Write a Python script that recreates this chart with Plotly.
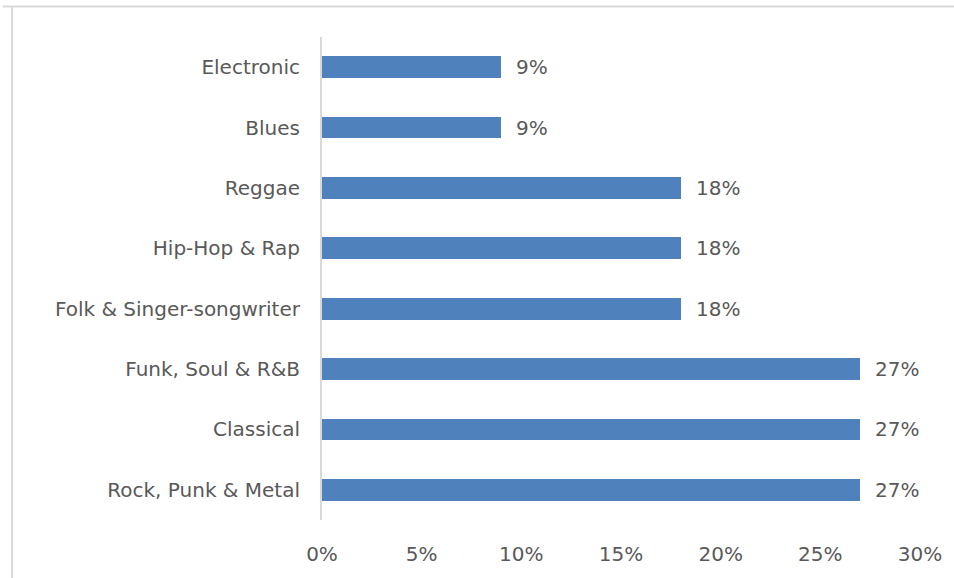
import plotly.graph_objects as go

# Share of listeners by genre (top to bottom as displayed)
genres = [
    "Electronic",
    "Blues",
    "Reggae",
    "Hip-Hop & Rap",
    "Folk & Singer-songwriter",
    "Funk, Soul & R&B",
    "Classical",
    "Rock, Punk & Metal",
]
shares = [9, 9, 18, 18, 18, 27, 27, 27]
tick_vals = [0, 5, 10, 15, 20, 25, 30]
tick_text = ["0%", "5%", "10%", "15%", "20%", "25%", "30%"]

text_color = "#595959"
font_family = "DejaVu Sans, sans-serif"
font_size = 20

fig = go.Figure(
    go.Bar(
        x=shares,
        y=genres,
        orientation="h",
        width=0.36,
        marker=dict(color="#4F81BD", line=dict(width=0)),
        hoverinfo="skip",
    )
)

# value labels beside each bar
for g, v in zip(genres, shares):
    fig.add_annotation(
        x=v, y=g, text=f"{v}%", showarrow=False,
        xanchor="left", xshift=13,
        font=dict(size=font_size, color=text_color, family=font_family),
    )

plot_w = 954 - 322 - 29
plot_h = 484

# chart frame (top and left edges)
fig.add_shape(type="line", xref="paper", yref="paper",
              x0=-322 / plot_w, x1=1.1, y0=1 + 30.5 / plot_h, y1=1 + 30.5 / plot_h,
              line=dict(color="#d9d9d9", width=2))
fig.add_shape(type="line", xref="paper", yref="paper",
              x0=-312.5 / plot_w, x1=-312.5 / plot_w, y0=-0.2, y1=1 + 30.5 / plot_h,
              line=dict(color="#d9d9d9", width=2))

fig.update_layout(
    width=954,
    height=578,
    margin=dict(l=322, r=29, t=37, b=57),
    paper_bgcolor="white",
    plot_bgcolor="white",
    showlegend=False,
    bargap=0,
    font=dict(family=font_family, color=text_color, size=font_size),
    xaxis=dict(
        range=[0, 30],
        tickvals=tick_vals,
        ticktext=tick_text,
        showgrid=False,
        zeroline=False,
        showline=False,
        ticks="",
        ticklabelstandoff=20,
        tickfont=dict(size=font_size, color=text_color),
    ),
    yaxis=dict(
        categoryorder="array",
        categoryarray=genres[::-1],
        showgrid=False,
        zeroline=False,
        showline=True,
        linecolor="#d9d9d9",
        linewidth=2,
        ticks="",
        ticklabelstandoff=16,
        tickfont=dict(size=font_size, color=text_color),
    ),
)

fig.write_html("out.html")
